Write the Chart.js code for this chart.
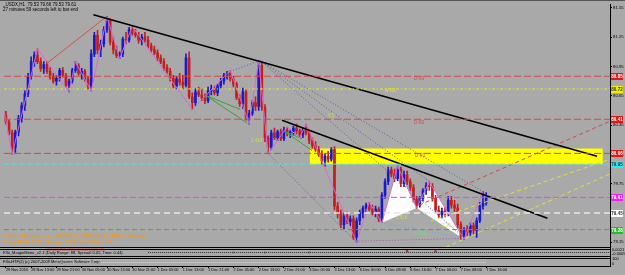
<!DOCTYPE html>
<html><head><meta charset="utf-8">
<script src="https://cdn.jsdelivr.net/npm/chart.js@4.4.0/dist/chart.umd.min.js"></script>
<style>html,body{margin:0;padding:0;background:#a9a9a9;overflow:hidden}</style>
</head><body>
<canvas id="c" width="625" height="275"></canvas>
<script>
// ---------- DATA ----------
const opens  = [80.45,80.38,80.27,80.12,80.28,80.42,80.55,80.67,80.85,81.00,81.07,81.00,80.93,80.97,80.90,80.84,80.80,80.83,80.91,80.86,80.76,80.80,80.91,80.96,80.88,80.90,80.82,80.75,81.08,81.27,81.12,81.18,81.33,81.42,81.20,81.12,81.06,81.08,81.23,81.22,81.33,81.29,81.27,81.22,81.25,81.22,81.16,81.12,81.09,81.04,81.00,80.94,80.90,80.83,80.75,80.82,80.79,80.76,81.04,80.64,80.58,80.69,80.66,80.63,80.60,80.70,80.72,80.68,80.75,80.80,80.86,80.88,80.82,80.77,80.63,80.57,80.69,80.43,80.47,80.58,80.54,80.96,80.53,80.22,80.12,80.27,80.22,80.28,80.21,80.30,80.27,80.28,80.32,80.29,80.25,80.30,80.27,80.19,80.14,80.10,80.05,79.98,80.03,80.00,80.10,79.52,79.44,79.33,79.42,79.36,79.39,79.20,79.37,79.45,79.50,79.53,79.49,79.46,79.49,79.39,79.63,79.77,79.89,79.85,79.80,79.90,79.75,79.84,79.77,79.71,79.59,79.53,79.60,79.68,79.73,79.72,79.60,79.48,79.43,79.47,79.44,79.58,79.53,79.50,79.33,79.21,79.28,79.25,79.32,79.27,79.37,79.52,79.55];
const highs  = [80.49,80.40,80.30,80.30,80.45,80.58,80.70,80.88,81.05,81.10,81.13,81.04,81.00,81.00,80.94,80.88,80.86,80.93,80.94,80.88,80.82,80.93,81.00,80.98,80.93,80.92,80.85,81.12,81.30,81.32,81.22,81.36,81.46,81.44,81.25,81.16,81.10,81.25,81.30,81.35,81.36,81.33,81.30,81.28,81.30,81.26,81.19,81.16,81.12,81.07,81.03,80.97,80.93,80.86,80.85,80.88,80.86,81.08,81.10,80.68,80.72,80.74,80.72,80.67,80.74,80.76,80.75,80.77,80.83,80.88,80.90,80.91,80.85,80.79,80.66,80.73,80.72,80.50,80.60,80.64,81.01,81.00,80.56,80.24,80.30,80.32,80.30,80.31,80.33,80.33,80.30,80.34,80.36,80.31,80.32,80.36,80.30,80.22,80.18,80.13,80.09,80.06,80.08,80.12,80.13,79.56,79.48,79.45,79.46,79.42,79.42,79.40,79.48,79.52,79.55,79.56,79.53,79.52,79.51,79.66,79.80,79.92,79.92,79.90,79.93,79.92,79.88,79.88,79.80,79.74,79.62,79.62,79.70,79.76,79.77,79.75,79.63,79.52,79.50,79.50,79.62,79.62,79.58,79.54,79.36,79.30,79.32,79.35,79.35,79.40,79.56,79.67,79.66];
const lows   = [80.36,80.25,80.05,80.07,80.24,80.38,80.50,80.64,80.82,80.95,80.98,80.90,80.88,80.88,80.82,80.78,80.76,80.80,80.84,80.74,80.69,80.78,80.89,80.86,80.82,80.80,80.72,80.70,81.05,81.08,81.05,81.15,81.30,81.17,81.08,81.04,81.03,81.05,81.18,81.20,81.27,81.25,81.19,81.17,81.20,81.14,81.10,81.07,81.01,80.98,80.91,80.88,80.80,80.72,80.72,80.76,80.72,80.74,80.62,80.51,80.55,80.64,80.60,80.57,80.58,80.66,80.66,80.65,80.72,80.77,80.82,80.80,80.74,80.61,80.54,80.52,80.40,80.36,80.45,80.50,80.50,80.50,80.18,80.06,80.10,80.20,80.19,80.19,80.19,80.24,80.22,80.25,80.26,80.22,80.22,80.25,80.16,80.11,80.08,80.03,79.95,79.93,79.97,79.98,79.48,79.40,79.30,79.28,79.34,79.32,79.18,79.15,79.33,79.40,79.46,79.47,79.43,79.41,79.36,79.35,79.60,79.74,79.82,79.77,79.78,79.72,79.72,79.74,79.68,79.56,79.50,79.51,79.57,79.64,79.68,79.57,79.45,79.40,79.40,79.41,79.42,79.50,79.46,79.30,79.18,79.18,79.22,79.22,79.23,79.20,79.35,79.49,79.53];
const closes = [80.38,80.27,80.12,80.28,80.42,80.55,80.67,80.85,81.00,81.07,81.00,80.93,80.97,80.90,80.84,80.80,80.83,80.91,80.86,80.76,80.80,80.91,80.96,80.88,80.90,80.82,80.75,81.08,81.27,81.12,81.18,81.33,81.42,81.20,81.12,81.06,81.08,81.23,81.22,81.33,81.29,81.27,81.22,81.25,81.22,81.16,81.12,81.09,81.04,81.00,80.94,80.90,80.83,80.75,80.82,80.79,80.76,81.04,80.64,80.58,80.69,80.66,80.63,80.60,80.70,80.72,80.68,80.75,80.80,80.86,80.88,80.82,80.77,80.63,80.57,80.69,80.43,80.47,80.58,80.54,80.96,80.53,80.22,80.12,80.27,80.22,80.28,80.21,80.30,80.27,80.28,80.32,80.29,80.25,80.30,80.27,80.19,80.14,80.10,80.05,79.98,80.03,80.00,80.10,79.52,79.44,79.33,79.42,79.36,79.39,79.20,79.37,79.45,79.50,79.53,79.49,79.46,79.49,79.39,79.63,79.77,79.89,79.85,79.80,79.90,79.75,79.84,79.77,79.71,79.59,79.53,79.60,79.68,79.73,79.72,79.60,79.48,79.43,79.47,79.44,79.58,79.53,79.50,79.33,79.21,79.28,79.25,79.32,79.27,79.37,79.52,79.55,79.61];

const timeLabels = ["29 Nov 2010","29 Nov 13:00","29 Nov 21:00","30 Nov 05:00","30 Nov 13:00","30 Nov 21:00","1 Dec 05:00","1 Dec 13:00","1 Dec 21:00","2 Dec 05:00","2 Dec 13:00","2 Dec 21:00","3 Dec 05:00","3 Dec 13:00","6 Dec 00:00","6 Dec 08:00","6 Dec 16:00","7 Dec 00:00","7 Dec 08:00","7 Dec 16:00"];
const timeTickBars = [0,8,16,24,32,40,48,56,64,72,80,88,96,104,112,120,128,136,144,152];
const priceTicks = [79.15,79.30,79.45,79.60,79.75,79.90,80.05,80.20,80.35,80.50,80.65,80.80,80.95,81.10,81.25,81.40,81.55];

// horizontal levels: D R3, W R1, D R2, D R1, cyan, bid, white, green
const levelValues = [80.85,80.72,80.41,80.06,79.95,79.61,79.45,79.28];

const zigzagBars   = [-0.6,2,10,20,22,27,32,36,40,59,71,77,80,83,89,93,95,111,115,119,124,130,134,145,151];
const zigzagPrices = [80.50,80.05,81.13,80.69,81.00,80.70,81.46,81.03,81.36,80.51,80.91,80.36,81.01,80.06,80.33,80.22,80.36,79.15,79.56,79.35,79.93,79.50,79.77,79.18,79.67];

const trendABars = [27.7,187.1],  trendAPrices = [81.48,80.03];
const trendBBars = [87.4,171.4],  trendBPrices = [80.40,79.395];
const redLineBars = [12.9,31.8],  redLinePrices = [80.98,81.46];
const rectBars = [96.2,188.9,188.9,96.2,96.2], rectPrices = [80.11,80.11,79.95,79.95,80.11];
const tri1Bars = [119,124,130,119], tri1Prices = [79.35,79.93,79.50,79.35];
const tri2Bars = [130,134,145,130], tri2Prices = [79.50,79.77,79.18,79.50];

const greenLines = [
  [[63.2,74.2],[80.655,80.51]],
  [[63.2,76.4],[80.655,80.37]],
  [[88,93.7],[80.29,80.21]],
  [[88,96.9],[80.29,80.09]]
];
const fanLines = [
  [[71,80.5],[80.90,81.01]],
  [[80.5,151.9],[81.01,79.65]],
  [[80.5,145.3],[81.01,79.19]],
  [[80.5,134.6],[81.01,79.76]],
  [[82.7,110.7],[80.07,79.16]]
];
const xdLineBars = [110.7,145.3], xdLinePrices = [79.16,79.19];
const bdLineBars = [118.9,145.3], bdLinePrices = [79.35,79.19];
const forkRedBars = [130.8,191.2], forkRedPrices = [79.53,80.39];
const forkY1Bars = [134.6,191.2],  forkY1Prices = [79.37,80.00];
const forkY2Bars = [139.3,191.2],  forkY2Prices = [79.10,79.85];

// indicator panes
const pane1LineBars = [45,191.2], pane1LineVals = [0.4,0.4];
const pane1RedBars = [13,31], pane1RedVals = [0.75,0.75];
const pane1GreenDotBars = [72,82,96], pane1GreenDotVals = [0.4,0.4,0.4];
const pane1RedDotBars = [127,136], pane1RedDotVals = [0.55,0.55];
const pane2RowBars = [15,152], pane2RowA = [0.7,0.7], pane2RowB = [0.35,0.35];

// ---------- CHART ----------
const FONT = '"Liberation Sans", Arial, sans-serif';
const BLUE = '#1a1acd', RED = '#c41e1e';
const seg = (bs, ps) => bs.map((b, i) => ({x: b, y: ps[i]}));
const XMIN = -0.6, XMAX = 191.2;

const bodyData = opens.map((o, i) => ({x: i, y: [Math.min(o, closes[i]), Math.max(o, closes[i])]}));
const wickData = opens.map((o, i) => ({x: i, y: [lows[i], highs[i]]}));
const candleColors = opens.map((o, i) => closes[i] >= o ? BLUE : RED);

function L(data, color, extra) {
  return Object.assign({type: 'line', data, borderColor: color, borderWidth: 1, pointRadius: 0,
    tension: 0, fill: false, order: 1, yAxisID: 'y', xAxisID: 'x'}, extra || {});
}
const levelStyles = [
  {c: '#d24848', d: [7,3]}, {c: '#e6e63c', d: [3,2,1,2]}, {c: '#d24848', d: [7,3]}, {c: '#d24848', d: [7,3]},
  {c: '#5fdede', d: [5,3]}, {c: '#e048e0', d: [6,3]}, {c: '#e6e6e6', d: [6,4], w: 1.5}, {c: '#3cb03c', d: [5,3]}
];
const levelBoxColors = ['#e01818','#f0f000','#e01818','#e01818','#30e8f0','#f020f0','#ffffff','#20c020'];
const levelTextColors = ['#ffffff','#303030','#ffffff','#ffffff','#303030','#ffffff','#303030','#ffffff'];

const datasets = [];
levelValues.forEach((v, i) => datasets.push(L(seg([XMIN, XMAX], [v, v]), levelStyles[i].c,
  {borderDash: levelStyles[i].d, borderWidth: levelStyles[i].w || 1})));
datasets.push(L(seg(trendABars, trendAPrices), '#000000', {borderWidth: 1.6}));
datasets.push(L(seg(trendBBars, trendBPrices), '#000000', {borderWidth: 1.6}));
datasets.push(L(seg(zigzagBars, zigzagPrices), '#d46ad4'));
datasets.push(L(seg(redLineBars, redLinePrices), '#d05050'));
greenLines.forEach(g => datasets.push(L(seg(g[0], g[1]), '#3ca03c')));
fanLines.forEach(f => datasets.push(L(seg(f[0], f[1]), '#5a5aa8', {borderDash: [1,2]})));
datasets.push(L(seg(xdLineBars, xdLinePrices), '#a050b0', {borderDash: [1,2]}));
datasets.push(L(seg(bdLineBars, bdLinePrices), '#70a8d8', {borderDash: [1,2]}));
datasets.push(L(seg(forkRedBars, forkRedPrices), '#d04848', {borderDash: [4,3]}));
datasets.push(L(seg(forkY1Bars, forkY1Prices), '#e0e040', {borderDash: [4,3]}));
datasets.push(L(seg(forkY2Bars, forkY2Prices), '#e0e040', {borderDash: [4,3]}));
// candles
datasets.push({type: 'bar', data: bodyData, backgroundColor: candleColors, barThickness: 2, grouped: false,
  minBarLength: 1, borderWidth: 0, order: 3, yAxisID: 'y', xAxisID: 'x'});
datasets.push({type: 'bar', data: wickData, backgroundColor: candleColors, barThickness: 1, grouped: false,
  borderWidth: 0, order: 4, yAxisID: 'y', xAxisID: 'x'});
// shapes behind candles
datasets.push(L(seg(tri1Bars, tri1Prices), 'rgba(0,0,0,0)', {fill: 'shape', backgroundColor: '#ffffff', borderWidth: 0, order: 6}));
datasets.push(L(seg(tri2Bars, tri2Prices), 'rgba(0,0,0,0)', {fill: 'shape', backgroundColor: '#ffffff', borderWidth: 0, order: 6}));
datasets.push(L(seg(rectBars, rectPrices), 'rgba(0,0,0,0)', {fill: 'shape', backgroundColor: '#ffff00', borderWidth: 0, order: 7}));
// panes
datasets.push(L(seg(pane1LineBars, pane1LineVals), '#303030', {yAxisID: 'y1', borderDash: [1,1]}));
datasets.push(L(seg(pane1RedBars, pane1RedVals), '#d02020', {yAxisID: 'y1', borderWidth: 1.5}));
datasets.push(L(seg(pane1GreenDotBars, pane1GreenDotVals), '#20c020', {yAxisID: 'y1', showLine: false, pointRadius: 1.2, pointBackgroundColor: '#20c020', pointBorderWidth: 0}));
datasets.push(L(seg(pane1RedDotBars, pane1RedDotVals), '#d02020', {yAxisID: 'y1', showLine: false, pointRadius: 1.2, pointBackgroundColor: '#d02020', pointBorderWidth: 0}));
datasets.push(L(seg(pane2RowBars, pane2RowA), '#dcdcec', {yAxisID: 'y2', borderDash: [1,1]}));
datasets.push(L(seg(pane2RowBars, pane2RowB), '#dcdcec', {yAxisID: 'y2', borderDash: [1,1]}));

const chartTexts = [
  {t: 'D R3', bar: 129.2, price: 80.82, color: '#d04a4a'},
  {t: 'W R1', bar: 119.8, price: 80.70, color: '#e8e040'},
  {t: 'D R2', bar: 129.2, price: 80.37, color: '#d04a4a'},
  {t: 'D R1', bar: 129.5, price: 80.035, color: '#d04a4a'},
  {t: '1.414', bar: 77.5, price: 80.19, color: '#c8e050'},
  {t: '0.5', bar: 102, price: 80.45, color: '#c8e050'},
  {t: '1.618', bar: 123.5, price: 79.40, color: '#c8e050'},
  {t: '2.24', bar: 138, price: 79.32, color: '#c8e050'},
  {t: '0.886', bar: 129.5, price: 79.24, color: '#70e070'}
];

const overlay = {
  id: 'overlay',
  beforeDraw(chart) {
    const ctx = chart.ctx;
    ctx.save(); ctx.fillStyle = '#a9a9a9'; ctx.fillRect(0, 0, chart.width, chart.height); ctx.restore();
  },
  afterDatasetsDraw(chart) {
    const {ctx, scales: {x, y}} = chart;
    ctx.save();
    ctx.textAlign = 'left'; ctx.textBaseline = 'middle';
    ctx.font = '4.5px ' + FONT;
    chartTexts.forEach(t => { ctx.fillStyle = t.color; ctx.fillText(t.t, x.getPixelForValue(t.bar), y.getPixelForValue(t.price)); });
    ctx.restore();
  },
  afterDraw(chart) {
    const {ctx, scales: {y, y1, y2}} = chart;
    const right = chart.chartArea.right;
    ctx.save();
    // frame
    ctx.fillStyle = '#555555'; ctx.fillRect(0, 0, chart.width, 1);
    ctx.fillStyle = '#000000';
    [y.bottom - 0.5, y1.top + 1.5, y1.bottom - 0.5, y2.top + 1.5, y2.bottom - 0.5].forEach(v => ctx.fillRect(0, Math.round(v), right, 1));
    // level boxes on the price axis
    ctx.textAlign = 'center'; ctx.textBaseline = 'middle'; ctx.font = 'bold 4.5px ' + FONT;
    levelValues.forEach((v, i) => {
      const py = Math.round(y.getPixelForValue(v));
      ctx.fillStyle = levelBoxColors[i]; ctx.fillRect(right + 1, py - 3, 12, 7);
      ctx.fillStyle = levelTextColors[i]; ctx.fillText(v.toFixed(2), right + 7, py + 0.5);
    });
    // texts
    ctx.textAlign = 'left'; ctx.textBaseline = 'middle';
    ctx.fillStyle = '#000000'; ctx.font = '4.5px ' + FONT;
    ctx.fillText('_USDX,H1  79.53 79.66 79.53 79.61', 3, 5);
    ctx.fillText('27 minutes 59 seconds left to bar end', 3, 10);
    ctx.font = '4px ' + FONT;
    ctx.fillText('FXii_MarginMeter_v2.1 (Daily Range: 88, Spread: 0.05, Time: 0.44)', 3, (y1.top + y1.bottom) / 2 + 1);
    ctx.fillText('FXii-HTF(2) (c) 2007-2009 MetaQuotes Software Corp.', 3, (y2.top + y2.bottom) / 2 + 1);
    ctx.fillText('0.0021', right + 2, y1.top + 3); ctx.fillText('-0.0005', right + 2, y1.bottom - 2);
    ctx.fillText('100', right + 2, y2.top + 3); ctx.fillText('0', right + 2, y2.bottom - 2.5);
    ctx.fillStyle = '#f09a28'; ctx.font = 'bold 5.2px ' + FONT;
    ctx.fillText('Bullish Butterfly on _USDX H1,  WRB_ZUP_INFO_v92.mq4', 3, 237);
    ctx.fillText('Entry Risk -0.58 , Range: 79.05 to 79.26 = 0.21', 3, 243);
    ctx.restore();
  }
};

new Chart(document.getElementById('c'), {
  type: 'bar',
  data: {datasets},
  options: {
    responsive: false, animation: false, devicePixelRatio: 1,
    layout: {padding: {top: 2, left: 0, right: 0, bottom: 0}},
    plugins: {legend: {display: false}, tooltip: {enabled: false}},
    scales: {
      x: {type: 'linear', min: XMIN, max: XMAX, offset: false, position: 'bottom',
        grid: {display: true, drawOnChartArea: false, drawTicks: true, tickLength: 2, color: '#000', offset: false},
        border: {display: true, color: '#000'},
        ticks: {align: 'start', padding: 0, maxRotation: 0, minRotation: 0, autoSkip: false, color: '#000',
          font: {size: 3.9, family: FONT},
          callback: v => { const k = timeTickBars.indexOf(v); return k >= 0 ? timeLabels[k] : ''; }},
        afterBuildTicks: s => { s.ticks = timeTickBars.map(v => ({value: v})); },
        afterFit: s => { s.height = 9; }},
      y: {type: 'linear', position: 'right', stack: 'p', stackWeight: 245, weight: 0, min: 79.10, max: 81.59, beginAtZero: false,
        grid: {display: true, drawOnChartArea: false, drawTicks: true, tickLength: 2, color: '#000'},
        border: {display: true, color: '#000'},
        ticks: {padding: 1, color: '#000', font: {size: 4.3, family: FONT}, callback: v => Number(v).toFixed(2)},
        afterBuildTicks: s => { s.ticks = priceTicks.map(v => ({value: v})); },
        afterFit: s => { s.width = 15; }},
      y1: {type: 'linear', position: 'right', stack: 'p', stackWeight: 9, weight: 1, min: 0, max: 1,
        grid: {display: false}, ticks: {display: false}, border: {display: true, color: '#000'},
        afterFit: s => { s.width = 15; }},
      y2: {type: 'linear', position: 'right', stack: 'p', stackWeight: 10, weight: 2, min: 0, max: 1,
        grid: {display: false}, ticks: {display: false}, border: {display: true, color: '#000'},
        afterFit: s => { s.width = 15; }}
    }
  },
  plugins: [overlay]
});
</script>
</body></html>
